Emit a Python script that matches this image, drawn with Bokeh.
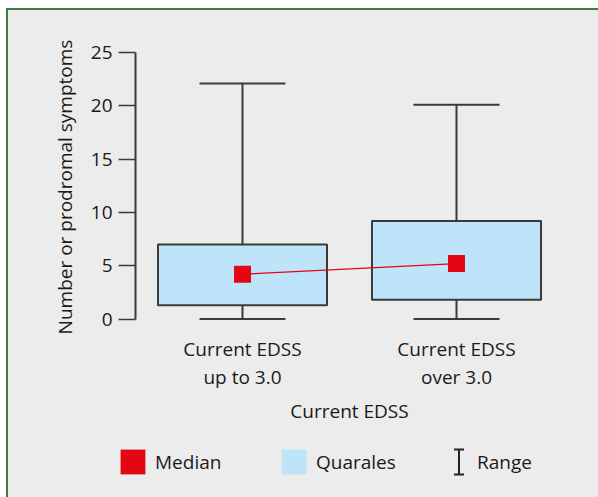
from bokeh.plotting import figure
from bokeh.layouts import column
from bokeh.models import (FactorRange, Range1d, FixedTicker, Whisker, TeeHead, Legend,
                          LegendItem, Arrow, ColumnDataSource)
from bokeh.embed import file_html
from bokeh.resources import INLINE

# ---- data ----
categories = ["Current EDSS\nup to 3.0", "Current EDSS\nover 3.0"]
range_min = [0, 0]
quartile_low = [1.3, 1.8]
median = [4.2, 5.2]
quartile_high = [7.0, 9.2]
range_max = [22.1, 20.1]
y_ticks = [0, 5, 10, 15, 20, 25]
legend_labels = ["Median", "Quarales", "Range"]

FONT = "Open Sans"
FS = "19px"
TXT = "#1a1a1a"
RED = "#e30613"
BLUE = "#bde4f8"
LINE = "#3a3a3a"
BG = "#ececec"

src = ColumnDataSource(dict(cat=categories, lo=range_min, q1=quartile_low, med=median,
                            q3=quartile_high, hi=range_max))

p = figure(x_range=FactorRange(factors=categories, range_padding=0),
           y_range=Range1d(-0.23, 25),
           frame_width=428, frame_height=269,
           min_border_left=127, min_border_top=42, min_border_right=35, min_border_bottom=114,
           output_backend="svg", toolbar_location=None)
p.frame_align = False

p.background_fill_color = BG
p.border_fill_color = BG
p.outline_line_color = None
p.grid.visible = False

# whiskers (range)
wh = Whisker(source=src, base="cat", lower="lo", upper="hi", dimension="height",
             line_color=LINE, line_width=2, level="underlay",
             lower_head=TeeHead(size=86, line_color=LINE, line_width=2),
             upper_head=TeeHead(size=86, line_color=LINE, line_width=2))
p.add_layout(wh)

# boxes (quartiles)
p.vbar(x="cat", width=0.79, bottom="q1", top="q3", source=src,
       fill_color=BLUE, line_color=LINE, line_width=2)

# median line + markers
p.line(x="cat", y="med", source=src, line_color=RED, line_width=1.3)
p.scatter(x="cat", y="med", source=src, marker="square", size=17,
          fill_color=RED, line_color=None)

# axes
p.yaxis.ticker = FixedTicker(ticks=y_ticks)
p.yaxis.bounds = (0, 25)
p.yaxis.axis_label = "Number or prodromal symptoms"
p.yaxis.axis_line_color = LINE
p.yaxis.axis_line_width = 2
p.yaxis.major_tick_line_color = LINE
p.yaxis.major_tick_line_width = 1.5
p.yaxis.major_tick_out = 17
p.yaxis.major_tick_in = 0
p.yaxis.minor_tick_line_color = None
p.yaxis.major_label_standoff = 6
p.yaxis.axis_label_standoff = 10

p.xaxis.axis_label = "Current EDSS"
p.xaxis.axis_line_color = None
p.xaxis.major_tick_line_color = None
p.xaxis.major_tick_out = 0
p.xaxis.major_tick_in = 0
p.xaxis.major_label_standoff = 14
p.xaxis.major_label_text_line_height = 1.1
p.xaxis.axis_label_standoff = 5

for ax in (p.xaxis, p.yaxis):
    ax.major_label_text_font = FONT
    ax.major_label_text_font_size = FS
    ax.major_label_text_color = TXT
    ax.axis_label_text_font = FONT
    ax.axis_label_text_font_size = FS
    ax.axis_label_text_font_style = "normal"
    ax.axis_label_text_color = TXT

# ---- legend strip ----
lf = figure(width=590, height=62, min_border=0, x_axis_type=None, y_axis_type=None,
            x_range=Range1d(0, 1), y_range=Range1d(0, 1),
            output_backend="svg", toolbar_location=None)
lf.frame_align = False
lf.background_fill_color = BG
lf.border_fill_color = BG
lf.outline_line_color = None
lf.grid.visible = False

# legend proxies (kept outside the visible range; only their legend swatches show)
leg_med = lf.rect(x=[-5], y=[-5], width=0.01, height=0.01, fill_color=RED, line_color=None)
leg_box = lf.rect(x=[-5], y=[-5], width=0.01, height=0.01, fill_color=BLUE, line_color=None)
leg_rng = lf.rect(x=[-5], y=[-5], width=0.01, height=0.01, fill_alpha=0, line_alpha=0)
legend = Legend(items=[LegendItem(label=legend_labels[0], renderers=[leg_med]),
                       LegendItem(label=legend_labels[1], renderers=[leg_box]),
                       LegendItem(label=legend_labels[2], renderers=[leg_rng])],
                orientation="horizontal", location=(109, 20),
                glyph_width=31, glyph_height=31, label_standoff=7, label_width=123,
                spacing=0, padding=0, margin=0,
                border_line_alpha=0, background_fill_alpha=0,
                label_text_font=FONT, label_text_font_size=FS, label_text_color=TXT)
lf.add_layout(legend)

ibeam = Arrow(x_start=450.5, y_start=23, x_end=450.5, y_end=48,
              start_units="screen", end_units="screen",
              line_color="#222222", line_width=2,
              start=TeeHead(size=10, line_color="#222222", line_width=2),
              end=TeeHead(size=10, line_color="#222222", line_width=2))
lf.add_layout(ibeam)

layout = column(p, lf, spacing=0)
layout.margin = (8, 0, 0, 6)
layout.styles = {"border-top": "2px solid #3b7d3b", "border-left": "2px solid #3b7d3b",
                 "background-color": BG}

open("out.html", "w").write(file_html(layout, INLINE))
